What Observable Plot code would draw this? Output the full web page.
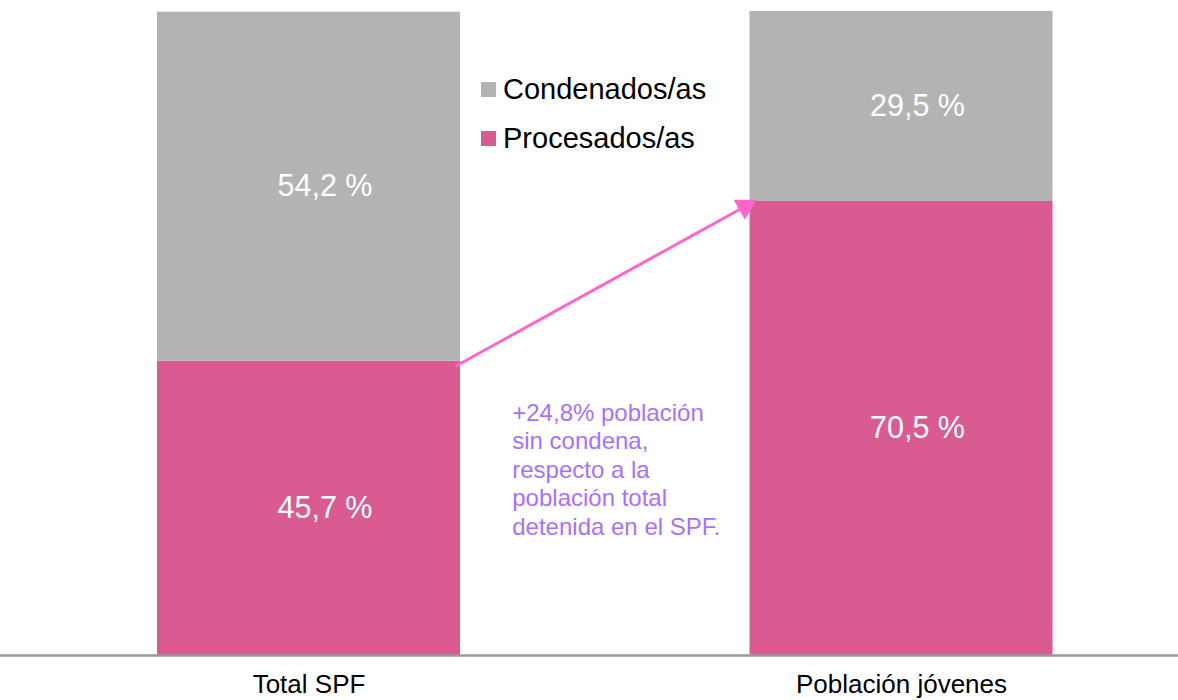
<!DOCTYPE html>
<html>
<head>
<meta charset="utf-8">
<script src="https://cdn.jsdelivr.net/npm/d3@7"></script>
<script src="https://cdn.jsdelivr.net/npm/@observablehq/plot@0.6"></script>
<style>
  html, body { margin: 0; padding: 0; background: #fff; }
  #wrap { position: relative; width: 1178px; height: 700px; font-family: "Liberation Sans", Arial, sans-serif; }
  #legend { position: absolute; left: 481px; top: 69px; font-size: 29px; color: #000; }
  #legend .row { display: flex; align-items: center; height: 40px; margin-bottom: 9px; }
  #legend .sw { width: 15px; height: 15px; margin-right: 7px; display: inline-block; }
</style>
</head>
<body>
<div id="wrap"><div id="legend"></div></div>
<script>
// ---- data ----
const categories = ["Total SPF", "Población jóvenes"];
const seriesNames = ["Condenados/as", "Procesados/as"];
const procesados = [45.7, 70.5];
const condenados = [54.2, 29.5];
const seriesColors = ["#b3b3b3", "#d95b92"];
const annotationLines = [
  "+24,8% población",
  "sin condena,",
  "respecto a la",
  "población total",
  "detenida en el SPF."
];

// ---- layout constants ----
const halfWidth = 0.2557;           // half bar width in category units
const xDomain = [-0.5207, 1.4675];

// ---- build table (stacked: Procesados bottom, Condenados top) ----
const table = [];
categories.forEach((c, i) => {
  table.push({i, cat: c, serie: "Procesados/as", value: procesados[i], y1: 0, y2: procesados[i]});
  table.push({i, cat: c, serie: "Condenados/as", value: condenados[i], y1: procesados[i], y2: procesados[i] + condenados[i]});
});
const fmt = v => v.toFixed(1).replace(".", ",") + " %";

const arrowData = [{x1: 0 + halfWidth, y1: procesados[0], x2: 1 - halfWidth, y2: procesados[1]}];
const annotation = [{x: 0.5, y: 29, text: annotationLines.join("\n")}];

const chart = Plot.plot({
  width: 1178,
  height: 700,
  marginLeft: 0,
  marginRight: 0,
  marginTop: 11,
  marginBottom: 45,
  style: {fontFamily: "'Liberation Sans', Arial, sans-serif", color: "#000", background: "transparent"},
  x: {type: "linear", domain: xDomain, axis: null},
  y: {domain: [0, 100], axis: null},
  color: {domain: seriesNames, range: seriesColors},
  marks: [
    Plot.rectY(table, {x1: d => d.i - halfWidth, x2: d => d.i + halfWidth, y1: "y1", y2: "y2", fill: "serie"}),
    Plot.ruleY([0], {stroke: "#9a9a9a", strokeWidth: 2.5}),
    Plot.text(table, {x: "i", y: d => (d.y1 + d.y2) / 2, text: d => fmt(d.value), fill: "#fff", fontSize: 30.5, dx: 16}),
    Plot.axisX(categories.map((_, i) => i), {tickFormat: i => categories[i], tickSize: 0, tickPadding: 19, fontSize: 26, fill: "#000"}),
    Plot.link(arrowData, {x1: "x1", y1: "y1", x2: "x2", y2: "y2", stroke: "#ff66cc", strokeWidth: 3, dy: 5, dx: -5}),
    Plot.dot(arrowData, {x: "x2", y: "y2", symbol: "triangle", r: 8.5, fill: "#ff66cc", stroke: "none", rotate: 61, dy: 5, dx: -5}),
    Plot.text(annotation, {x: "x", y: "y", text: "text", textAnchor: "start", lineAnchor: "middle", dx: -93, fontSize: 24, lineHeight: 1.19, fill: "#a970ff"})
  ]
});
document.getElementById("wrap").prepend(chart);

// legend (HTML overlay)
const legend = document.getElementById("legend");
seriesNames.forEach((s, k) => {
  const row = document.createElement("div");
  row.className = "row";
  const sw = document.createElement("span");
  sw.className = "sw";
  sw.style.background = seriesColors[k];
  row.appendChild(sw);
  row.appendChild(document.createTextNode(s));
  legend.appendChild(row);
});
</script>
</body>
</html>
